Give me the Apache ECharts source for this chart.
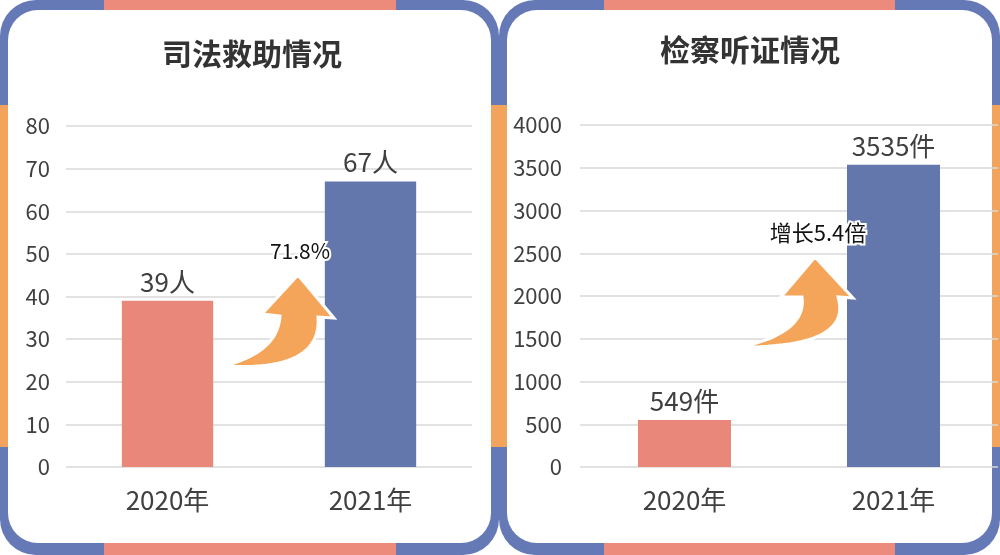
<!DOCTYPE html>
<html>
<head>
<meta charset="utf-8">
<script src="https://cdn.jsdelivr.net/npm/echarts@6/dist/echarts.min.js"></script>
<style>
  html, body { margin: 0; padding: 0; background: #fff; }
  #chart { width: 1000px; height: 555px; }
</style>
</head>
<body>
<div id="chart"></div>
<script>
// ---- data ----
const categories = ['2020年', '2021年'];
const aidValues = [39, 67];            // 司法救助 (人)
const hearingValues = [549, 3535];     // 检察听证 (件)
const titles = ['司法救助情况', '检察听证情况'];
const growthTexts = ['71.8%', '增长5.4倍'];
const aidUnit = '人';
const hearingUnit = '件';

// ---- styles ----
const barColors = ['#E8877A', '#6477AD'];
const borderBlue = '#6479B6';
const borderSalmon = '#EC8B7C';
const borderOrange = '#F3A45C';
const arrowOrange = '#F5A55A';
const textColor = '#404040';
const FONT = '"Noto Sans CJK SC", "Liberation Sans", sans-serif';

function panel(x, w, salmonFrom, salmonTo) {
  const h = 555;
  return [
    { type: 'rect', z: -10, shape: { x: x, y: 0, width: w, height: h, r: 36 }, style: { fill: borderBlue } },
    { type: 'rect', z: -9, shape: { x: salmonFrom, y: 0, width: salmonTo - salmonFrom, height: 12 }, style: { fill: borderSalmon } },
    { type: 'rect', z: -9, shape: { x: salmonFrom, y: 541, width: salmonTo - salmonFrom, height: 14 }, style: { fill: borderSalmon } },
    { type: 'rect', z: -9, shape: { x: x, y: 105, width: 9, height: 342 }, style: { fill: borderOrange } },
    { type: 'rect', z: -9, shape: { x: x + w - 9, y: 105, width: 9, height: 342 }, style: { fill: borderOrange } },
    { type: 'rect', z: -8, shape: { x: x + 8, y: 10, width: w - 16, height: h - 22, r: 30 }, style: { fill: '#ffffff' } }
  ];
}

// quadratic bezier sampled into polygon points (decorative arrow outline)
function quad(a, c, b, n) {
  const pts = [];
  for (let i = 0; i <= n; i++) {
    const t = i / n, u = 1 - t;
    pts.push([u * u * a[0] + 2 * u * t * c[0] + t * t * b[0], u * u * a[1] + 2 * u * t * c[1] + t * t * b[1]]);
  }
  return pts;
}
function arrowPoints(P, c1, SL, HL, T, HR, SR, c2) {
  return [].concat(quad(P, c1, SL, 24), [HL, T, HR], quad(SR, c2, P, 24));
}

const chart = echarts.init(document.getElementById('chart'), null, { renderer: 'canvas' });

const yLabel = { fontSize: 22, color: textColor, fontFamily: FONT, formatter: v => String(v) };
const xLabel = { fontSize: 26, color: textColor, fontFamily: FONT, margin: 20 };
const split = { show: true, lineStyle: { color: '#d9d9d9', width: 1.5 } };

const option = {
  animation: false,
  backgroundColor: '#ffffff',
  grid: [
    { left: 66, top: 126, width: 406, height: 341 },
    { left: 580, top: 125, width: 418, height: 342 }
  ],
  xAxis: [
    { type: 'category', gridIndex: 0, data: categories, axisLine: { show: false }, axisTick: { show: false }, axisLabel: xLabel },
    { type: 'category', gridIndex: 1, data: categories, axisLine: { show: false }, axisTick: { show: false }, axisLabel: xLabel }
  ],
  yAxis: [
    { type: 'value', gridIndex: 0, min: 0, max: 80, interval: 10, axisLine: { show: false }, axisTick: { show: false }, axisLabel: Object.assign({ margin: 16 }, yLabel), splitLine: split },
    { type: 'value', gridIndex: 1, min: 0, max: 4000, interval: 500, axisLine: { show: false }, axisTick: { show: false }, axisLabel: Object.assign({ margin: 18 }, yLabel), splitLine: split }
  ],
  series: [
    {
      type: 'bar', xAxisIndex: 0, yAxisIndex: 0, data: aidValues, barWidth: '45%',
      itemStyle: { color: p => barColors[p.dataIndex] },
      label: { show: true, position: 'top', distance: 6, formatter: p => p.value + aidUnit, fontSize: 26, color: textColor, fontFamily: FONT }
    },
    {
      type: 'bar', xAxisIndex: 1, yAxisIndex: 1, data: hearingValues, barWidth: '44.5%',
      itemStyle: { color: p => barColors[p.dataIndex] },
      label: { show: true, position: 'top', distance: 6, formatter: p => p.value + hearingUnit, fontSize: 26, color: textColor, fontFamily: FONT }
    }
  ],
  graphic: [].concat(
    panel(0, 499, 104, 396),
    panel(499, 501, 604, 895),
    [
      { type: 'text', z: 10, x: 252, y: 54, style: { text: titles[0], fill: '#333333', font: 'bold 30px ' + FONT, textAlign: 'center', textVerticalAlign: 'middle' } },
      { type: 'text', z: 10, x: 750, y: 50, style: { text: titles[1], fill: '#333333', font: 'bold 30px ' + FONT, textAlign: 'center', textVerticalAlign: 'middle' } },
      { type: 'polygon', z: 10, shape: { points: arrowPoints([224, 366], [278, 352], [280, 316], [262, 314], [298, 275], [334, 318], [318, 317], [322, 372]) },
        style: { fill: arrowOrange, stroke: '#ffffff', lineWidth: 3 } },
      { type: 'polygon', z: 10, shape: { points: arrowPoints([742, 347], [807, 332], [802, 297], [781, 297], [815, 257], [853, 298], [838, 297], [853, 347]) },
        style: { fill: arrowOrange, stroke: '#ffffff', lineWidth: 3 } },
      { type: 'text', z: 11, x: 300, y: 251, style: { text: growthTexts[0], fill: '#111111', font: '21px ' + FONT, textAlign: 'center', textVerticalAlign: 'middle', stroke: '#ffffff', lineWidth: 4 } },
      { type: 'text', z: 11, x: 818, y: 233, style: { text: growthTexts[1], fill: '#111111', font: '22px ' + FONT, textAlign: 'center', textVerticalAlign: 'middle', stroke: '#ffffff', lineWidth: 4 } }
    ]
  )
};

chart.setOption(option);
</script>
</body>
</html>
